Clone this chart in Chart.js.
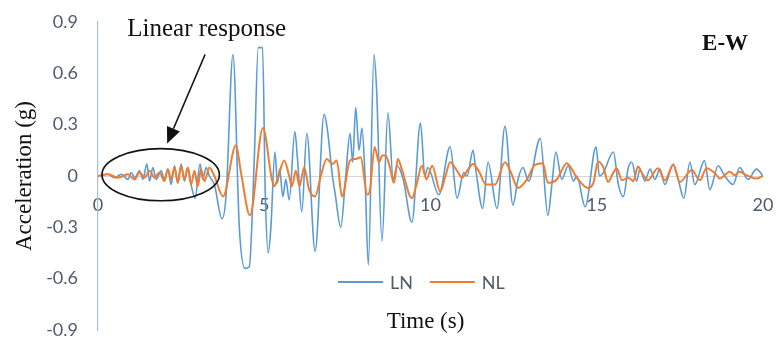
<!DOCTYPE html>
<html>
<head>
<meta charset="utf-8">
<script src="https://cdn.jsdelivr.net/npm/chart.js@4/dist/chart.umd.min.js"></script>
<style>
html,body{margin:0;padding:0;background:#fff;}
#wrap{width:778px;height:340px;position:relative;}
</style>
</head>
<body>
<div id="wrap"><canvas id="c" width="778" height="340"></canvas></div>
<script>
// ---- data ----
const lnTime = [0,0.3,0.5,0.7,0.9,1.0,1.1,1.25,1.35,1.47,1.55,1.65,1.75,1.9,2.0,2.1,2.2,2.3,2.4,2.5,2.6,2.7,2.8,2.92,3.07,3.15,3.25,3.35,3.5,3.73,3.85,4.06,4.25,4.42,4.55,4.7,4.82,4.95,5.03,5.12,5.2,5.32,5.4,5.46,5.56,5.65,5.75,5.92,6.0,6.13,6.28,6.53,6.8,6.9,7.05,7.13,7.3,7.45,7.58,7.66,7.75,7.85,7.94,8.03,8.13,8.3,8.38,8.54,8.72,8.88,8.99,9.18,9.44,9.7,9.83,9.92,10.25,10.59,10.8,11.0,11.1,11.28,11.36,11.57,11.73,12.0,12.24,12.48,12.63,12.78,12.95,13.3,13.53,13.65,13.77,13.95,14.14,14.3,14.4,14.65,14.98,15.08,15.2,15.5,15.65,15.8,15.95,16.06,16.2,16.3,16.45,16.6,16.75,16.9,17.05,17.3,17.45,17.62,17.8,17.95,18.24,18.4,18.65,18.85,19.1,19.3,19.55,19.8,20.0];
const lnAcc = [0,0.01,-0.01,0.01,-0.02,0.02,-0.01,0.03,-0.02,0.07,-0.03,0.05,-0.02,0.03,-0.02,0.04,-0.05,0.06,-0.04,0.07,-0.03,0.05,-0.05,-0.13,0.07,-0.02,0.05,0.0,-0.05,-0.25,-0.12,0.71,-0.3,-0.54,-0.53,0.1,0.75,0.75,-0.1,-0.45,-0.3,0.14,-0.04,0.04,-0.12,-0.02,-0.14,0.26,0.1,-0.21,0.25,-0.44,0.36,0.27,0.0,-0.1,-0.3,0.0,0.25,0.08,0.4,0.15,0.28,0.0,-0.52,0.71,0.5,-0.38,0.37,-0.02,0.06,-0.02,-0.27,0.31,0.0,0.05,-0.11,0.17,-0.13,0.02,0.0,0.15,0.04,-0.19,0.08,-0.19,0.29,-0.17,-0.02,0.05,-0.03,0.22,-0.23,-0.05,0.14,-0.02,0.06,-0.03,0.0,-0.18,0.17,0.0,0.02,0.14,-0.05,-0.12,0.05,0.08,-0.03,0.04,-0.03,0.04,-0.02,0.04,-0.05,0.07,-0.02,-0.13,0.08,-0.05,0.09,-0.08,0.06,0.0,-0.05,0.05,-0.02,0.04,0.0];

const nlTime = [0,0.3,0.6,0.9,1.1,1.25,1.4,1.55,1.7,1.85,2.0,2.1,2.2,2.3,2.4,2.5,2.6,2.7,2.8,2.9,3.0,3.1,3.2,3.35,3.5,3.76,4.15,4.3,4.57,4.96,5.23,5.3,5.4,5.6,5.75,5.83,5.95,6.06,6.2,6.35,6.53,6.7,6.88,7.05,7.18,7.34,7.58,7.75,7.9,8.1,8.18,8.32,8.45,8.55,8.65,8.78,8.9,9.02,9.15,9.44,9.58,9.74,9.88,10.05,10.29,10.45,10.59,10.8,10.95,11.1,11.28,11.45,11.67,11.94,12.24,12.4,12.63,12.9,13.14,13.38,13.53,13.8,14.1,14.25,14.4,14.74,14.9,15.04,15.2,15.34,15.5,15.6,15.76,15.95,16.1,16.24,16.38,16.54,16.84,17.05,17.3,17.5,17.86,18.1,18.3,18.56,18.7,19.0,19.15,19.3,19.5,19.8,20.0];
const nlAcc = [0,0.01,-0.01,0.01,-0.02,0.02,-0.01,0.03,-0.01,0.02,-0.03,0.04,-0.02,0.05,-0.04,0.06,-0.02,0.05,-0.05,0.03,-0.06,0.04,-0.03,0.05,0.0,-0.12,0.18,0.02,-0.23,0.28,-0.02,-0.06,-0.02,0.09,0.0,-0.06,0.03,-0.06,0.05,-0.08,-0.12,0.0,0.1,0.07,0.09,-0.12,0.09,0.1,0.11,-0.11,-0.08,0.17,0.08,0.12,0.12,0.05,-0.04,0.1,0.03,-0.13,-0.05,0.06,-0.02,0.06,-0.09,0.0,0.08,0.03,-0.01,0.03,0.07,0.03,-0.05,-0.05,0.08,0.03,-0.07,-0.02,0.065,0.075,-0.04,-0.02,0.075,0.04,-0.01,-0.07,-0.04,0.085,0.05,-0.035,0.02,0.045,-0.025,-0.01,-0.03,0.055,0.01,-0.025,0.045,-0.025,0.065,-0.035,0.035,-0.025,0.045,0.015,-0.015,0.025,0.005,0.025,0.005,-0.015,0.0];

const seriesNames = ['LN','NL'];
const xTicks = [0,5,10,15,20];
const yTicks = [-0.9,-0.6,-0.3,0,0.3,0.6,0.9];

// ---- styling / layout (not data) ----
const colors = {LN:'#5b9bd5', NL:'#ed7d31'};
const tickColor = '#4f5b6d';
const serif = '"Liberation Serif", "Times New Roman", serif';

const toPts = (t, a) => t.map((v, i) => ({x: v, y: a[i]}));

const annot = {
  id: 'annot',
  afterDraw(chart) {
    const {ctx, scales: {x, y}} = chart;
    ctx.save();
    // ellipse around early linear part
    const t0 = 0.12, t1 = 3.65, a0 = -0.145, a1 = 0.16;
    const cx = (x.getPixelForValue(t0) + x.getPixelForValue(t1)) / 2;
    const cy = (y.getPixelForValue(a0) + y.getPixelForValue(a1)) / 2;
    const rx = (x.getPixelForValue(t1) - x.getPixelForValue(t0)) / 2;
    const ry = (y.getPixelForValue(a0) - y.getPixelForValue(a1)) / 2;
    ctx.strokeStyle = '#111';
    ctx.lineWidth = 1.6;
    ctx.beginPath();
    ctx.ellipse(cx, cy, rx, ry, 0, 0, Math.PI * 2);
    ctx.stroke();
    // arrow
    const sx = x.getPixelForValue(3.22), sy = y.getPixelForValue(0.71);
    const ex = x.getPixelForValue(2.08), ey = y.getPixelForValue(0.19);
    const ang = Math.atan2(ey - sy, ex - sx);
    const hl = 16, hw = 7;
    const bx = ex - hl * Math.cos(ang), by = ey - hl * Math.sin(ang);
    ctx.lineWidth = 1.6;
    ctx.beginPath(); ctx.moveTo(sx, sy); ctx.lineTo(bx, by); ctx.stroke();
    ctx.fillStyle = '#111';
    ctx.beginPath();
    ctx.moveTo(ex, ey);
    ctx.lineTo(bx + hw * Math.sin(ang), by - hw * Math.cos(ang));
    ctx.lineTo(bx - hw * Math.sin(ang), by + hw * Math.cos(ang));
    ctx.closePath(); ctx.fill();
    // annotation text
    ctx.fillStyle = '#111';
    ctx.textAlign = 'center';
    ctx.textBaseline = 'middle';
    ctx.font = '25px ' + serif;
    ctx.fillText('Linear response', x.getPixelForValue(3.27), y.getPixelForValue(0.855));
    ctx.font = 'bold 23px ' + serif;
    ctx.fillText('E-W', x.getPixelForValue(18.86), y.getPixelForValue(0.77));
    // axis titles
    ctx.font = '23px ' + serif;
    ctx.fillText('Time (s)', x.getPixelForValue(9.85), y.getPixelForValue(-0.855));
    ctx.save();
    ctx.translate(25, (chart.chartArea.top + chart.chartArea.bottom) / 2);
    ctx.rotate(-Math.PI / 2);
    ctx.fillText('Acceleration (g)', 0, 0);
    ctx.restore();
    // legend
    const ly = y.getPixelForValue(-0.62);
    const starts = [7.22, 9.98];
    ctx.font = '18px Lato, "Open Sans", sans-serif';
    ctx.textAlign = 'left';
    chart.data.datasets.forEach((ds, i) => {
      const lx = x.getPixelForValue(starts[i]);
      ctx.strokeStyle = ds.borderColor;
      ctx.lineWidth = 2;
      ctx.beginPath(); ctx.moveTo(lx, ly); ctx.lineTo(lx + 45, ly); ctx.stroke();
      ctx.fillStyle = tickColor;
      ctx.fillText(ds.label, lx + 52, ly + 1);
    });
    ctx.restore();
  }
};

new Chart(document.getElementById('c'), {
  type: 'line',
  data: {
    datasets: [
      {label: seriesNames[0], data: toPts(lnTime, lnAcc), borderColor: colors.LN, borderWidth: 1.6, pointRadius: 0, cubicInterpolationMode: 'monotone', order: 2},
      {label: seriesNames[1], data: toPts(nlTime, nlAcc), borderColor: colors.NL, borderWidth: 2, pointRadius: 0, cubicInterpolationMode: 'monotone', order: 1}
    ]
  },
  options: {
    responsive: false,
    animation: false,
    layout: {padding: {left: 0, right: 15, top: 22, bottom: 10}},
    plugins: {legend: {display: false}, tooltip: {enabled: false}},
    scales: {
      x: {
        type: 'linear', min: 0, max: 20, position: {y: 0},
        afterFit: s => { s.height = 0; s.paddingLeft = 0; s.paddingRight = 0; },
        afterBuildTicks: s => { s.ticks = xTicks.map(v => ({value: v})); },
        grid: {display: false, drawTicks: false},
        border: {display: true, color: '#d6d6d6', width: 1},
        ticks: {padding: 18, color: tickColor, font: {family: 'Lato', size: 18}, maxRotation: 0, autoSkip: false}
      },
      y: {
        type: 'linear', min: -0.9, max: 0.9,
        afterFit: s => { s.width = 98; s.paddingTop = 0; s.paddingBottom = 0; },
        afterBuildTicks: s => { s.ticks = yTicks.map(v => ({value: v})); },
        grid: {display: false, drawTicks: false},
        border: {display: true, color: '#a7bfe0', width: 1.2},
        ticks: {padding: 20, color: tickColor, font: {family: 'Lato', size: 18}, callback: v => String(Math.round(v * 10) / 10)}
      }
    }
  },
  plugins: [annot]
});
</script>
</body>
</html>
